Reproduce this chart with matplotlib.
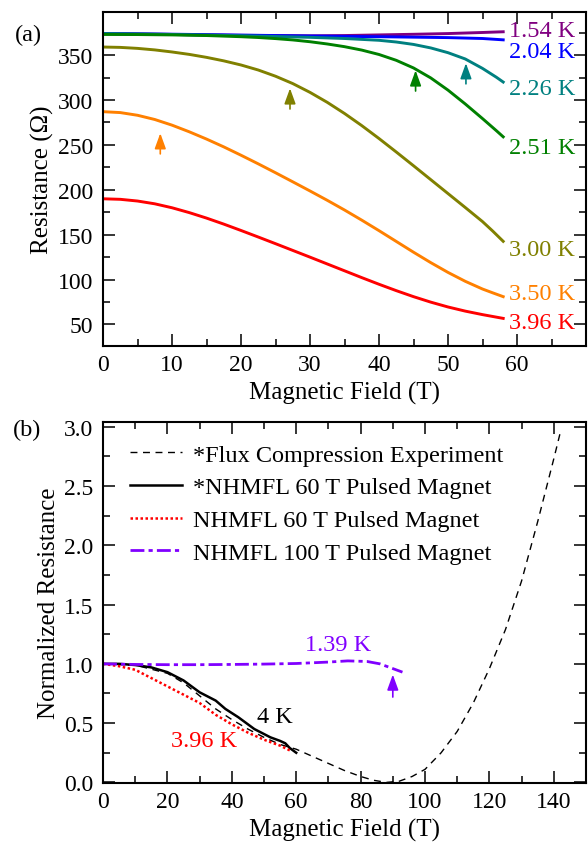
import numpy as np
import matplotlib
matplotlib.use('Agg')
import matplotlib.pyplot as plt
from matplotlib.ticker import MultipleLocator

plt.rcParams['font.family'] = ['Liberation Serif', 'DejaVu Serif']
plt.rcParams['font.size'] = 17

# ---- panel (a): R(B) at several temperatures ----
field_top = [0, 5, 10, 15, 20, 25, 30, 35, 40, 45, 50, 55, 58]
r_154 = [374, 373.5, 373, 372.5, 372, 371.8, 371.5, 371.8, 372.5, 373.2, 374, 375.2, 376]
r_204 = [374, 373.7, 373.3, 372.8, 372.3, 371.8, 371.3, 370.9, 370.5, 370, 369.5, 368.5, 367]

field_226 = [0, 10, 20, 30, 35, 40, 42.5, 45, 47.5, 50, 52.5, 55, 57, 58]
r_226 = [374, 373, 371.6, 369.8, 368.5, 366.5, 364.6, 361.9, 358, 352.7, 345.7, 335.2,
         325.4, 320]

field_251 = [0, 5, 10, 15, 20, 22.5, 25, 27.5, 30, 32.5, 35, 37.5, 40, 42.5, 45, 47.5,
             50, 52.5, 55, 57, 58]
r_251 = [373, 372.9, 372.5, 371.8, 370.5, 369.6, 368.4, 366.9, 364.9, 362.4, 359.4, 355.6,
         350.7, 344.2, 335.7, 324.6, 311, 295.6, 279.3, 265.9, 259]

field_low = [0, 2.5, 5, 7.5, 10, 12.5, 15, 17.5, 20, 22.5, 25, 27.5, 30, 32.5, 35, 37.5,
             40, 42.5, 45, 47.5, 50, 52.5, 55, 56.5, 58]
r_300 = [359, 358.6, 357.5, 355.8, 353.5, 350.8, 347.5, 343.6, 339, 333.4, 326.5, 318.3,
         308.5, 297.4, 285, 271.5, 257.1, 242.1, 226.8, 211.3, 195.8, 180.3, 164.6, 153.9,
         142.6]
r_350 = [287, 286, 283, 278.3, 272, 264.6, 256.5, 247.8, 238.5, 228.9, 219, 208.9, 198.7,
         188.3, 177.5, 166.2, 154.5, 142.5, 130.5, 118.9, 108, 98.1, 89.5, 85.2, 81]
r_396 = [190, 189.4, 187.5, 184.4, 180, 174.6, 168.5, 161.8, 154.7, 147.4, 140, 132.5, 125,
         117.4, 109.8, 102.2, 94.8, 87.7, 81, 74.9, 69.5, 64.9, 61, 58.9, 56.8]

temps_a = ['1.54 K', '2.04 K', '2.26 K', '2.51 K', '3.00 K', '3.50 K', '3.96 K']
colors_a = ['#800080', '#0000ff', '#008080', '#008000', '#808000', '#ff8000', '#ff0000']
fields_a = [field_top, field_top, field_226, field_251, field_low, field_low, field_low]
curves_a = [r_154, r_204, r_226, r_251, r_300, r_350, r_396]
label_y_a = [377, 354, 313, 247, 134, 84, 52]

# arrows marking the onset field (x, tail y, head y)
arrow_x_a = [8.3, 27.1, 45.3, 52.6]
arrow_y0_a = [240, 290, 310, 318]
arrow_y1_a = [263, 313, 333, 341]
arrow_c_a = ['#ff8000', '#808000', '#008000', '#008080']

# ---- panel (b): normalized resistance ----
flux_b = [0, 10, 20, 25, 30, 35, 40, 45, 50, 55, 60, 65, 70, 75, 80, 84, 88, 92,
          96, 100, 105, 110, 115, 120, 125, 130, 135, 140, 142]
flux_r = [1.0, 0.99, 0.92, 0.84, 0.73, 0.62, 0.53, 0.45, 0.38, 0.32, 0.28, 0.22, 0.16,
          0.10, 0.05, 0.018, 0.0, 0.01, 0.05, 0.11, 0.25, 0.43, 0.67, 0.96, 1.29,
          1.70, 2.20, 2.73, 2.95]
nh60s_b = [0, 5, 10, 15, 20, 25, 30, 35, 38, 42, 47, 52, 55, 56.6, 58, 59, 60]
nh60s_r = [1.0, 1.0, 0.99, 0.97, 0.93, 0.86, 0.76, 0.69, 0.62, 0.55, 0.45, 0.38, 0.35,
           0.33, 0.29, 0.27, 0.25]
nh60_b = [0, 5, 10, 15, 20, 25, 30, 35, 40, 45, 50, 55, 58]
nh60_r = [1.0, 0.98, 0.95, 0.88, 0.81, 0.74, 0.67, 0.57, 0.49, 0.42, 0.36, 0.31, 0.27]
nh100_b = [0, 10, 20, 30, 40, 50, 60, 70, 76, 82, 86, 89, 93]
nh100_r = [1.0, 0.995, 0.993, 0.993, 0.995, 0.998, 1.003, 1.015, 1.025, 1.02, 1.0, 0.97, 0.93]
legend_b = ['*Flux Compression Experiment', '*NHMFL 60 T Pulsed Magnet',
            'NHMFL 60 T Pulsed Magnet', 'NHMFL 100 T Pulsed Magnet']
violet = '#8000ff'

fig = plt.figure(figsize=(5.88, 8.45), dpi=100)
ax1 = fig.add_axes([0.1752, 0.5893, 0.8214, 0.3953])
ax2 = fig.add_axes([0.1752, 0.0722, 0.8214, 0.4272])

for ax in (ax1, ax2):
    ax.tick_params(which='both', direction='in', top=True, right=True, width=1.1)
    ax.tick_params(which='major', length=8.5, labelsize=17)
    ax.tick_params(axis='y', which='major', pad=7)
    ax.tick_params(axis='x', which='major', pad=6)
    ax.tick_params(which='minor', length=4.8)
    for s in ax.spines.values():
        s.set_linewidth(1.5)

# (a)
for f, r, c, lab, ly in zip(fields_a, curves_a, colors_a, temps_a, label_y_a):
    ax1.plot(f, r, color=c, lw=2.1, solid_joinstyle='round')
    ax1.text(58.8, ly, lab, color=c, fontsize=17.5, ha='left', va='center')
for x, y0, y1, c in zip(arrow_x_a, arrow_y0_a, arrow_y1_a, arrow_c_a):
    ax1.annotate('', xy=(x, y1), xytext=(x, y0),
                 arrowprops=dict(arrowstyle='-|>,head_length=0.55,head_width=0.2',
                                 color=c, lw=1.2, shrinkA=0, shrinkB=0))
ax1.set_xlim(0, 70)
ax1.set_ylim(26, 398)
ax1.set_xticks([0, 10, 20, 30, 40, 50, 60])
ax1.xaxis.set_minor_locator(MultipleLocator(5))
ax1.yaxis.set_minor_locator(MultipleLocator(25))
ax1.set_yticks([50, 100, 150, 200, 250, 300, 350])
ax1.set_xlabel('Magnetic Field (T)', fontsize=18, labelpad=4)
ax1.set_ylabel('Resistance (Ω)', fontsize=18, labelpad=3)
fig.text(0.025, 0.9586, '(a)', fontsize=17.5, ha='left', va='center')

# (b)
ax2.plot(flux_b, flux_r, color='black', lw=1.0, ls=(0, (5, 4)), label=legend_b[0])
ax2.plot(nh60s_b, nh60s_r, color='black', lw=1.8, label=legend_b[1])
ax2.plot(nh60_b, nh60_r, color='red', lw=1.8, ls=(0, (1, 1)), label=legend_b[2])
ax2.plot(nh100_b, nh100_r, color=violet, lw=2.0, ls=(0, (5, 1.5, 1.5, 1.5)), label=legend_b[3])
ax2.text(73, 1.16, '1.39 K', color=violet, fontsize=17.5, ha='center', va='center')
ax2.text(53.5, 0.56, '4 K', color='black', fontsize=17.5, ha='center', va='center')
ax2.text(31.3, 0.35, '3.96 K', color='red', fontsize=17.5, ha='center', va='center')
ax2.annotate('', xy=(90, 0.91), xytext=(90, 0.72),
             arrowprops=dict(arrowstyle='-|>,head_length=0.55,head_width=0.2',
                             color=violet, lw=1.2, shrinkA=0, shrinkB=0))
ax2.set_xlim(0, 150)
ax2.set_ylim(-0.005, 3.04)
ax2.set_xticks([0, 20, 40, 60, 80, 100, 120, 140])
ax2.xaxis.set_minor_locator(MultipleLocator(10))
ax2.set_yticks([0.0, 0.5, 1.0, 1.5, 2.0, 2.5, 3.0])
ax2.yaxis.set_minor_locator(MultipleLocator(0.25))
ax2.set_xlabel('Magnetic Field (T)', fontsize=18, labelpad=4)
ax2.set_ylabel('Normalized Resistance', fontsize=18, labelpad=3)
ax2.legend(loc='upper left', bbox_to_anchor=(0.055, 0.94), frameon=False,
           fontsize=17.5, handlelength=2.15, handletextpad=0.46, labelspacing=0.44,
           borderpad=0, borderaxespad=0)
fig.text(0.022, 0.49, '(b)', fontsize=17.5, ha='left', va='center')

fig.savefig('out.png', dpi=100)
